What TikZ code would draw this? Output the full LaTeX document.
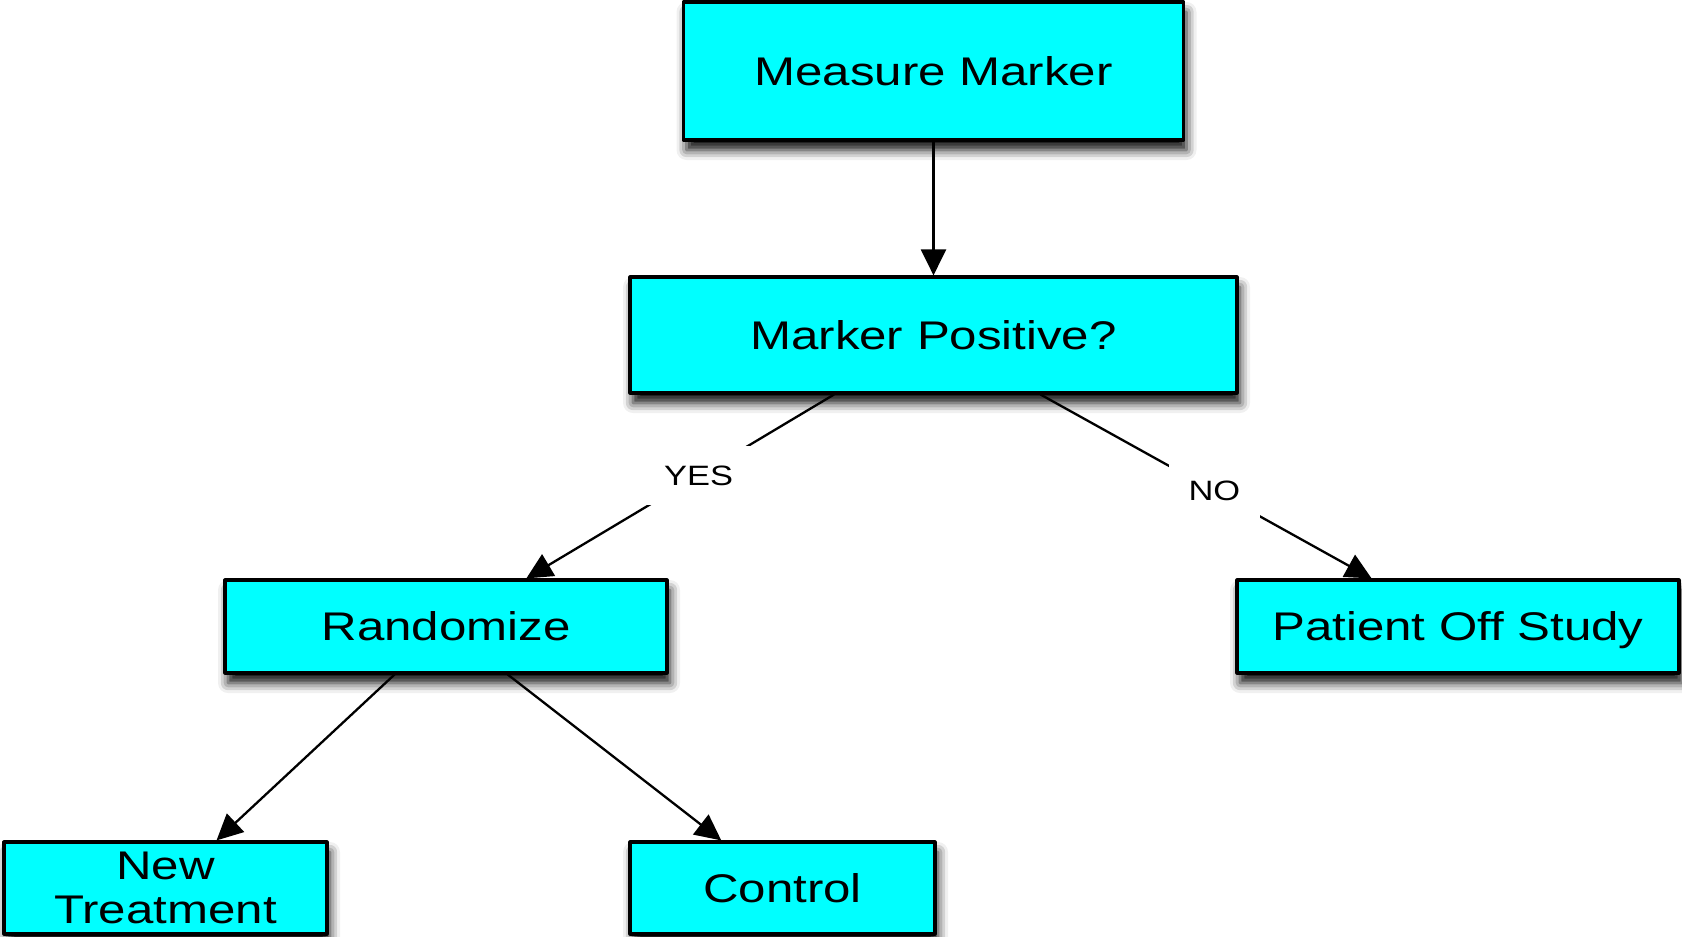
\documentclass[tikz,border=0pt]{standalone}
\usepackage{fontspec}
\setmainfont[FakeStretch=1.23]{Liberation Sans}
\usepackage{tikz}
\usetikzlibrary{arrows.meta,positioning,shadows.blur}
\definecolor{boxcyan}{HTML}{00FFFF}
\definecolor{ink}{HTML}{000000}
\tikzset{
    every picture/.style={line cap=round,line join=round},
    flowbox/.style={draw=ink,fill=boxcyan,line width=1.6pt,
      minimum width=221pt,minimum height=46.5pt,inner sep=2pt,
      font=\fontsize{20}{22}\selectfont,align=center,
      blur shadow={shadow xshift=1.5pt,shadow yshift=-5pt,
        shadow blur radius=5pt,shadow opacity=95}},
    flowarrow/.style={-{Triangle[length=13pt,width=12.5pt]},draw=ink,
      line width=1.15pt},
    edgelabel/.style={fill=white,inner sep=10pt,text=ink,
      font=\fontsize{14}{16}\selectfont}
}

\begin{document}
\begin{tikzpicture}[x=0.5pt,y=-0.5pt]
  \useasboundingbox (0,0) rectangle (1682,937);
  \node[flowbox,minimum width=250pt,minimum height=69pt] (measure) at (933.5,71) {Measure Marker};
  \node[flowbox,minimum width=303.5pt,minimum height=58pt] (positive) at (933.5,335) {Marker Positive?};
  \node[flowbox] (randomize) at (446,626.5) {Randomize};
  \node[flowbox,text depth=0pt] (offstudy) at (1458,626.5) {Patient Off Study};
  \node[flowbox,minimum width=161.5pt,minimum height=46pt] (newtreat) at (165.5,888) {New\\Treatment};
  \node[flowbox,minimum width=152.5pt,minimum height=46pt] (control) at (782.5,888) {Control};
  \draw[flowarrow] (measure) -- (positive);
  \draw[flowarrow] (positive) -- node[edgelabel,pos=.44]{YES} (randomize);
  \draw[flowarrow] (positive) -- node[edgelabel,pos=.525]{NO} (offstudy);
  \draw[flowarrow] (randomize) -- (newtreat);
  \draw[flowarrow] (randomize) -- (control);
\end{tikzpicture}
\end{document}
